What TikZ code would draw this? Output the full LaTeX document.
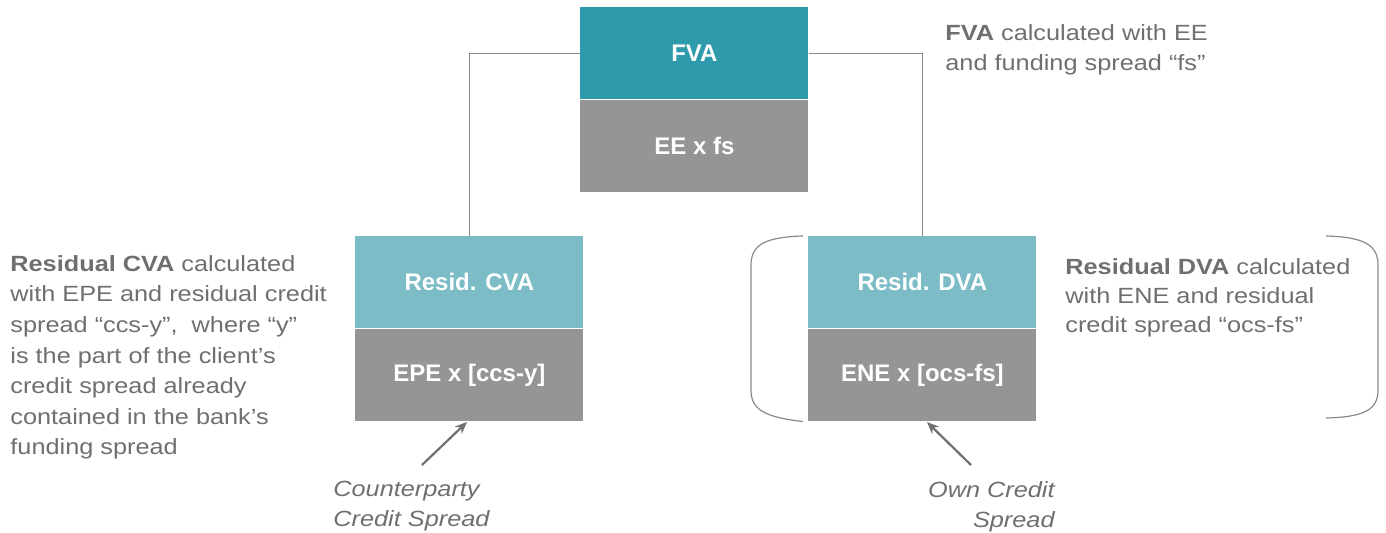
\documentclass[tikz,border=0pt]{standalone}
\usepackage{fontspec}
\setmainfont{Liberation Sans}
\newfontfamily\notefont[FakeStretch=1.15]{Liberation Sans}
\usetikzlibrary{positioning, arrows.meta, calc}
\definecolor{fva_teal}{HTML}{2F9AAB}
\definecolor{resid_teal}{HTML}{7BBCC6}
\definecolor{calc_gray}{HTML}{949597}
\definecolor{note_gray}{HTML}{6E6F71}
\definecolor{line_gray}{HTML}{8A8A8A}
\tikzstyle{box} = [rectangle, minimum width=114pt, minimum height=46pt, inner sep=0pt, text=white, font=\fontsize{12}{14}\selectfont\bfseries]
\tikzstyle{headbox} = [box, fill=resid_teal]
\tikzstyle{calcbox} = [box, fill=calc_gray]
\tikzstyle{conn} = [draw=line_gray, line width=0.6pt]
\tikzstyle{pointer} = [draw=note_gray, line width=1.1pt, -{Stealth[length=6pt, width=5pt]}]
\tikzstyle{note} = [inner sep=0pt, align=left, text=note_gray, font=\notefont\fontsize{11}{15}\selectfont]

\begin{document}
\begin{tikzpicture}[x=0.5pt, y=-0.5pt]
        \useasboundingbox (0,0) rectangle (1386,533);
        \node (fva) [box, fill=fva_teal, anchor=north west] at (580,7) {FVA};
        \node (fvacalc) [calcbox, below=0pt of fva] {EE x fs};
        \node (cva) [headbox, anchor=north west] at (355,236) {Resid. CVA};
        \node (cvacalc) [calcbox, below=0pt of cva] {EPE x [ccs-y]};
        \node (dva) [headbox, anchor=north west] at (808,236) {Resid. DVA};
        \node (dvacalc) [calcbox, below=0pt of dva] {ENE x [ocs-fs]};
        \draw [conn] (fva.west) -| (cva.north);
        \draw [conn] (fva.east) -| (dva.north);
        % brackets round the DVA box
        \draw [conn] ($(dva.north west)+(-5,0)$) .. controls (765,237) and (751,245) .. (751,265) -- (751,390) .. controls (751,410) and (765,417) .. ($(dvacalc.south west)+(-5,0)$);
        \draw [conn] (1326,236) .. controls (1364,237) and (1378,245) .. (1378,265) -- (1378,390) .. controls (1378,410) and (1364,417) .. (1326,418);
        \node (fvanote) [note, anchor=north west] at (945,24) {\textbf{FVA} calculated with EE\\and funding spread “fs”};
        \node (cvanote) [note, anchor=north west, font=\notefont\fontsize{11}{15.3}\selectfont] at (10,255) {\textbf{Residual CVA} calculated\\with EPE and residual credit\\spread “ccs-y”,\ \ where “y”\\is the part of the client’s\\credit spread already\\contained in the bank’s\\funding spread};
        \node (dvanote) [note, anchor=north west, font=\notefont\fontsize{11}{14.6}\selectfont] at (1065,258) {\textbf{Residual DVA} calculated\\with ENE and residual\\credit spread “ocs-fs”};
        \node (cplabel) [note, anchor=north west, font=\notefont\itshape\fontsize{11}{15}\selectfont] at (333,481) {Counterparty\\Credit Spread};
        \node (ownlabel) [note, align=right, anchor=north east, font=\notefont\itshape\fontsize{11}{15}\selectfont] at (1055,481) {Own Credit\\Spread};
        \coordinate (cpstart) at (422,465);
        \coordinate (cptip) at (467,422);
        \coordinate (ownstart) at (971,465);
        \coordinate (owntip) at (927,422);
        \draw [pointer] (cpstart) -- (cptip);
        \draw [pointer] (ownstart) -- (owntip);
    \end{tikzpicture}
\end{document}
